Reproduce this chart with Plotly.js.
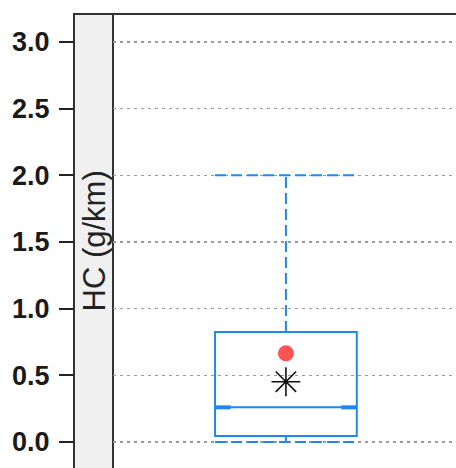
<!DOCTYPE html>
<html>
<head>
<meta charset="utf-8">
<script src="https://cdn.plot.ly/plotly-3.0.1.min.js"></script>
<style>html,body{margin:0;padding:0;background:#fff;}#chart{width:456px;height:468px;}</style>
</head>
<body>
<div id="chart"></div>
<script>
// ---- data ----
const stripLabel = "HC (g/km)";
const category = [0];
const q1 = [0.045];
const median = [0.26];
const q3 = [0.825];
const lowerWhisker = [0.0];
const upperWhisker = [2.0];
const meanValue = [0.665];
const starValue = [0.452];
const yTickVals = [0, 0.5, 1.0, 1.5, 2.0, 2.5, 3.0];
const yTickText = ["0.0", "0.5", "1.0", "1.5", "2.0", "2.5", "3.0"];

// ---- style ----
const blue = "#1e88f0";
const boxW = 0.5;
const half = boxW / 2;
const endLen = 0.055;
const yRange = [-0.195, 3.21];
const stripFrac = 39 / 382;

const c = category[0];
const wx = [c, c, null, c - half, c + half, null, c, c, null, c - half, c + half];
const wy = [q3[0], upperWhisker[0], null, upperWhisker[0], upperWhisker[0], null,
            q1[0], lowerWhisker[0], null, lowerWhisker[0], lowerWhisker[0]];
const mx = [c - half, c - half + endLen, null, c + half - endLen, c + half];
const my = [median[0], median[0], null, median[0], median[0]];

const traces = [
  {type: "scatter", mode: "lines", x: wx, y: wy, xaxis: "x", yaxis: "y",
   line: {color: blue, width: 2, dash: "11px,5px"}, hoverinfo: "skip", showlegend: false},
  {type: "box", x: category, q1: q1, median: median, q3: q3,
   lowerfence: q1, upperfence: q3, width: boxW, whiskerwidth: 0,
   line: {color: blue, width: 2}, fillcolor: "rgba(255,255,255,0)",
   boxpoints: false, xaxis: "x", yaxis: "y", showlegend: false},
  {type: "scatter", mode: "lines", x: mx, y: my, xaxis: "x", yaxis: "y",
   line: {color: blue, width: 4}, hoverinfo: "skip", showlegend: false},
  {type: "scatter", mode: "markers", x: category, y: meanValue, xaxis: "x", yaxis: "y2",
   marker: {symbol: "circle", size: 16, color: "#ff5252"}, showlegend: false},
  {type: "scatter", mode: "markers", x: category, y: starValue, xaxis: "x", yaxis: "y2",
   marker: {symbol: "asterisk-open", size: 24, color: "#111", line: {color: "#111", width: 1.6}}, showlegend: false}
];

const layout = {
  width: 456, height: 468,
  margin: {l: 74, r: 0, t: 14, b: 0, pad: 0},
  paper_bgcolor: "#fff", plot_bgcolor: "#fff",
  showlegend: false,
  font: {family: "Liberation Sans, Arial, sans-serif", color: "#222"},
  xaxis: {domain: [stripFrac, 1], range: [-0.61, 0.60], visible: false, fixedrange: true},
  yaxis: {range: yRange, tickvals: yTickVals, showticklabels: false, ticks: "",
          showgrid: true, gridcolor: "#9a9a9a", gridwidth: 1.6, griddash: "3px,4px",
          zeroline: false, showline: false, fixedrange: true},
  yaxis2: {range: yRange, overlaying: "y", anchor: "free", position: 0, side: "left",
           tickvals: yTickVals, ticktext: yTickText, ticks: "outside", ticklen: 14,
           tickwidth: 2, tickcolor: "#222", showgrid: false, zeroline: false,
           showline: true, linecolor: "#333", linewidth: 2,
           tickfont: {size: 27, color: "#1a1a1a", family: "Liberation Sans, Arial, sans-serif", weight: "bold"},
           ticklabelstandoff: 4, fixedrange: true},
  shapes: [
    {type: "rect", xref: "paper", yref: "paper", x0: 0, x1: stripFrac, y0: -0.05, y1: 1,
     fillcolor: "#f0f0f0", line: {color: "#333", width: 2}, layer: "below"},
    {type: "line", xref: "paper", yref: "paper", x0: 0, x1: 1.01, y0: 1, y1: 1,
     line: {color: "#333", width: 2}}
  ],
  annotations: [
    {xref: "paper", yref: "paper", x: stripFrac / 2, y: 0.5, text: stripLabel,
     textangle: -90, showarrow: false, xanchor: "center", yanchor: "middle",
     font: {size: 31, color: "#222", family: "Liberation Sans, Arial, sans-serif"}}
  ]
};

Plotly.newPlot("chart", traces, layout, {displayModeBar: false, staticPlot: true});
</script>
</body>
</html>
